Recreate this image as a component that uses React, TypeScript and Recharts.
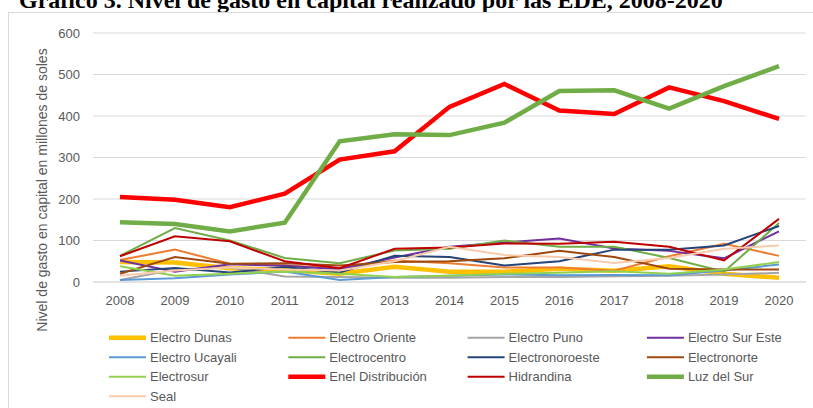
import React from 'react';
import { LineChart, Line, XAxis, YAxis, CartesianGrid } from 'recharts';

const years = ['2008', '2009', '2010', '2011', '2012', '2013', '2014', '2015', '2016', '2017', '2018', '2019', '2020'];
const yTicks = [0, 100, 200, 300, 400, 500, 600];

const electroDunas = [48, 47, 33, 29, 20, 37, 25, 25, 32, 27, 38, 20, 10];
const electroOriente = [53, 78, 44, 40, 34, 52, 45, 35, 35, 27, 62, 92, 63];
const electroPuno = [5, 30, 35, 13, 12, 10, 10, 12, 12, 14, 15, 18, 22];
const electroSurEste = [52, 25, 43, 39, 31, 59, 85, 95, 105, 81, 75, 57, 122];
const electroUcayali = [5, 9, 18, 25, 5, 12, 15, 18, 16, 17, 16, 28, 42];
const electrocentro = [63, 130, 100, 58, 45, 76, 80, 100, 85, 85, 58, 25, 142];
const electronoroeste = [25, 34, 23, 36, 23, 63, 60, 40, 50, 78, 78, 88, 135];
const electronorte = [20, 60, 44, 45, 40, 48, 50, 57, 75, 60, 32, 30, 30];
const electrosur = [38, 15, 20, 25, 20, 12, 15, 20, 22, 26, 20, 30, 48];
const enelDistribucion = [205, 198, 180, 213, 295, 315, 422, 477, 413, 405, 469, 436, 393];
const hidrandina = [62, 110, 98, 50, 33, 80, 83, 93, 92, 97, 85, 52, 152];
const luzDelSur = [144, 140, 122, 143, 339, 356, 354, 384, 460, 462, 418, 472, 520];
const seal = [15, 28, 35, 30, 28, 50, 85, 65, 60, 46, 58, 80, 88];

const series = [
  { name: 'Electro Dunas', values: electroDunas, color: '#FFC000', width: 4.5 },
  { name: 'Electro Oriente', values: electroOriente, color: '#ED7D31', width: 2 },
  { name: 'Electro Puno', values: electroPuno, color: '#A5A5A5', width: 2 },
  { name: 'Electro Sur Este', values: electroSurEste, color: '#7030A0', width: 2 },
  { name: 'Electro Ucayali', values: electroUcayali, color: '#5B9BD5', width: 2 },
  { name: 'Electrocentro', values: electrocentro, color: '#70AD47', width: 2 },
  { name: 'Electronoroeste', values: electronoroeste, color: '#264478', width: 2 },
  { name: 'Electronorte', values: electronorte, color: '#9E480E', width: 2 },
  { name: 'Electrosur', values: electrosur, color: '#92D050', width: 2 },
  { name: 'Enel Distribución', values: enelDistribucion, color: '#FF0000', width: 4.5 },
  { name: 'Hidrandina', values: hidrandina, color: '#C00000', width: 2 },
  { name: 'Luz del Sur', values: luzDelSur, color: '#70AD47', width: 4.5 },
  { name: 'Seal', values: seal, color: '#F8CBAD', width: 2 },
];

const data = years.map((year, i) => {
  const row: Record<string, string | number> = { year };
  series.forEach((s) => {
    row[s.name] = s.values[i];
  });
  return row;
});

const FONT = '"Liberation Sans", Arial, sans-serif';
const GREY_TEXT = '#595959';

export default function App() {
  return (
    <div style={{ position: 'absolute', left: 0, top: 0, width: 813, height: 408, background: '#fff', overflow: 'hidden' }}>
      <svg width={813} height={408} style={{ position: 'absolute', left: 0, top: 0 }}>
        <text x={19} y={8} fontFamily='"Liberation Serif", "Times New Roman", serif' fontWeight="bold" fontSize={24} fill="#000">
          Gráfico 3. Nivel de gasto en capital realizado por las EDE, 2008-2020
        </text>
      </svg>
      <div style={{ position: 'absolute', left: 8, top: 12, width: 900, height: 500, border: '1px solid #D9D9D9', boxSizing: 'border-box' }} />
      <div style={{ position: 'absolute', left: 0, top: 0 }}>
        <LineChart width={813} height={408} data={data} margin={{ top: 33, right: 7, bottom: 96, left: 0 }}>
          <CartesianGrid vertical={false} stroke="#D9D9D9" strokeWidth={1} />
          <XAxis
            dataKey="year"
            height={30}
            padding={{ left: 27, right: 27 }}
            tickLine={false}
            axisLine={{ stroke: '#D9D9D9' }}
            tickSize={6}
            tickMargin={8}
            tick={{ fill: GREY_TEXT, fontSize: 13, fontFamily: FONT }}
            interval={0}
          />
          <YAxis
            width={93}
            domain={[0, 600]}
            ticks={yTicks}
            tickLine={false}
            axisLine={false}
            tickSize={6}
            tickMargin={7}
            tick={{ fill: GREY_TEXT, fontSize: 13, fontFamily: FONT }}
          />
          {series.map((s) => (
            <Line
              key={s.name}
              type="linear"
              dataKey={s.name}
              stroke={s.color}
              strokeWidth={s.width}
              dot={false}
              activeDot={false}
              isAnimationActive={false}
            />
          ))}
        </LineChart>
      </div>
      <svg width={813} height={408} style={{ position: 'absolute', left: 0, top: 0, pointerEvents: 'none' }}>
        <text
          x={0}
          y={0}
          transform="translate(47,190) rotate(-90)"
          textAnchor="middle"
          fontFamily={FONT}
          fontSize={14}
          fill={GREY_TEXT}
        >
          Nivel de gasto en capital en millones de soles
        </text>
        {series.map((s, i) => {
          const col = i % 4;
          const row = Math.floor(i / 4);
          const x = 109 + col * 179.3;
          const y = 337.7 + row * 19.5;
          return (
            <g key={s.name}>
              <line x1={x} x2={x + 37} y1={y} y2={y} stroke={s.color} strokeWidth={s.width} />
              <text x={x + 41} y={y + 4.6} fontFamily={FONT} fontSize={13} fill={GREY_TEXT}>
                {s.name}
              </text>
            </g>
          );
        })}
      </svg>
    </div>
  );
}
